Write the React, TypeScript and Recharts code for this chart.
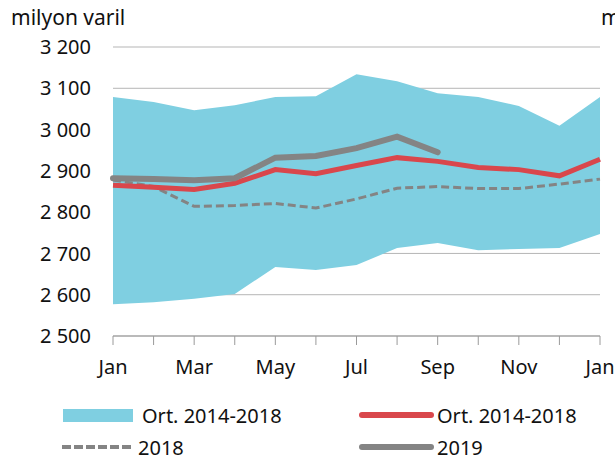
import React from 'react';
import { ComposedChart, Area, Line, XAxis, YAxis, CartesianGrid } from 'recharts';

const months = ['Jan', 'Feb', 'Mar', 'Apr', 'May', 'Jun', 'Jul', 'Aug', 'Sep', 'Oct', 'Nov', 'Dec', 'Jan'];
const tickLabels = ['Jan', '', 'Mar', '', 'May', '', 'Jul', '', 'Sep', '', 'Nov', '', 'Jan'];
const bandHigh = [3079, 3067, 3047, 3059, 3079, 3081, 3134, 3117, 3088, 3079, 3057, 3009, 3079];
const bandLow = [2577, 2582, 2590, 2602, 2667, 2660, 2672, 2713, 2725, 2708, 2711, 2713, 2747];
const avg = [2865, 2860, 2855, 2870, 2903, 2893, 2913, 2932, 2923, 2908, 2903, 2888, 2928];
const y2018 = [2878, 2862, 2814, 2816, 2821, 2810, 2832, 2858, 2862, 2857, 2857, 2868, 2880];
const y2019: (number | null)[] = [2882, 2880, 2877, 2882, 2932, 2936, 2955, 2983, 2945, null, null, null, null];
const yTicks = [2500, 2600, 2700, 2800, 2900, 3000, 3100, 3200];

const data = months.map((m, i) => ({
  x: i,
  month: m,
  range: [bandLow[i], bandHigh[i]],
  avg: avg[i],
  y2018: y2018[i],
  y2019: y2019[i],
}));

const FONT = '"Noto Sans", "DejaVu Sans", sans-serif';
const BLUE = '#7FCFE1';
const RED = '#D9474C';
const GRAY = '#848484';

const LegendBlock = () => (
  <svg width={615} height={70} style={{ position: 'absolute', left: 0, top: 395, display: 'block' }}>
    <g fontFamily={FONT} fontSize={20} fill="#111">
      <rect x={63} y={14} width={70} height={13} fill={BLUE} />
      <text x={142} y={28}>Ort. 2014-2018</text>
      <line x1={362} y1={20} x2={431} y2={20} stroke={RED} strokeWidth={6} strokeLinecap="round" />
      <text x={437} y={28}>Ort. 2014-2018</text>
      <line x1={62} y1={52} x2={133} y2={52} stroke={GRAY} strokeWidth={4} strokeDasharray="9 3" />
      <text x={138} y={60}>2018</text>
      <line x1={362} y1={52} x2={431} y2={52} stroke={GRAY} strokeWidth={6} strokeLinecap="round" />
      <text x={437} y={60}>2019</text>
    </g>
  </svg>
);

export default function App() {
  return (
    <div style={{ position: 'absolute', left: 0, top: 0, width: 615, height: 460, background: '#fff', overflow: 'hidden' }}>
      <div style={{ position: 'absolute', left: 11, top: 3, fontFamily: FONT, fontSize: 21, color: '#111', lineHeight: '28px' }}>milyon varil</div>
      <div style={{ position: 'absolute', left: 601, top: 3, fontFamily: FONT, fontSize: 21, color: '#111', lineHeight: '28px' }}>m</div>
      <ComposedChart width={615} height={460} data={data} margin={{ top: 47, right: 15, bottom: 94, left: 0 }}>
        <CartesianGrid horizontal vertical={false} stroke="#b5b5b5" strokeWidth={1} />
        <XAxis
          dataKey="x"
          type="number"
          domain={[0, 12]}
          ticks={[0, 1, 2, 3, 4, 5, 6, 7, 8, 9, 10, 11, 12]}
          tickFormatter={(v: number) => tickLabels[v]}
          interval={0}
          stroke="#9a9a9a"
          tickSize={9}
          tickMargin={15}
          height={30}
          tick={{ fill: '#111', fontSize: 20, fontFamily: FONT }}
          allowDecimals={false}
        />
        <YAxis
          domain={[2500, 3200]}
          ticks={yTicks}
          interval={0}
          width={113}
          axisLine={false}
          tickLine={false}
          tickSize={0}
          tickMargin={22}
          tickFormatter={(v: number) => String(v).replace(/^(\d)(\d{3})$/, '$1 $2')}
          tick={{ fill: '#111', fontSize: 20, fontFamily: FONT }}
        />
        <Area dataKey="range" type="linear" stroke="none" fill={BLUE} fillOpacity={1} isAnimationActive={false} />
        <Line dataKey="y2018" type="linear" stroke={GRAY} strokeWidth={3} strokeDasharray="8 4" dot={false} isAnimationActive={false} />
        <Line dataKey="avg" type="linear" stroke={RED} strokeWidth={5} dot={false} isAnimationActive={false} />
        <Line dataKey="y2019" type="linear" stroke={GRAY} strokeWidth={6} dot={false} strokeLinecap="round" connectNulls={false} isAnimationActive={false} />
      </ComposedChart>
      <LegendBlock />
    </div>
  );
}
